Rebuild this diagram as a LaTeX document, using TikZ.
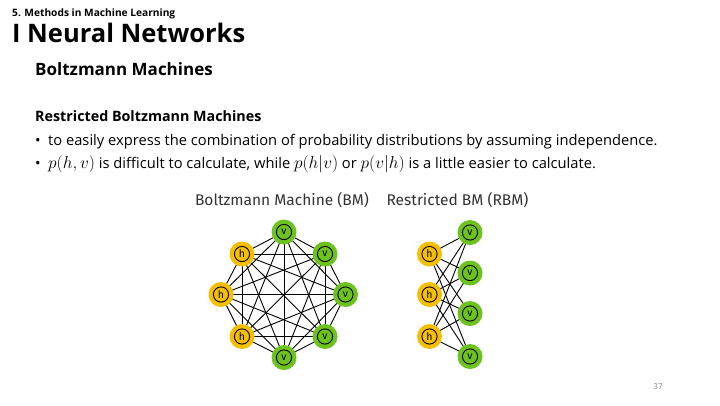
\documentclass[tikz,border=0pt]{standalone}
\usepackage{fontspec}
\setmainfont{Open Sans}
\newfontfamily\diagfont{Fira Sans}
\usetikzlibrary{backgrounds}
\definecolor{hcol}{HTML}{F5BE00}
\definecolor{vcol}{HTML}{6CC21E}
\definecolor{titlegray}{HTML}{333333}
\newcommand{\mymathbig}[1]{{\fontsize{17.5}{17}\selectfont$#1$}}
\tikzset{
  unitnode/.style={circle, minimum size=25pt, inner sep=0pt,
    font=\diagfont\fontsize{10.5}{10.5}\selectfont,
    path picture={\draw[black, line width=0.9pt] (path picture bounding box.center) circle (7.6pt);}},
  hn/.style={unitnode, fill=hcol},
  vn/.style={unitnode, fill=vcol},
  edge/.style={black, line width=0.9pt},
  txt/.style={anchor=base west, inner sep=0pt},
  body/.style={txt, font=\fontsize{14.7}{17}\selectfont},
  dtitle/.style={anchor=base, inner sep=0pt, text=titlegray, font=\diagfont\fontsize{15.5}{18}\selectfont},
}
\begin{document}
\begin{tikzpicture}[x=1pt, y=-1pt]
\useasboundingbox (0,0) rectangle (720,405);
% header texts
\node[txt, font=\bfseries\fontsize{10.2}{12}\selectfont] (sec) at (12,16.5) {5. Methods in Machine Learning};
\node[txt, font=\bfseries\fontsize{25.5}{30}\selectfont] (title) at (12,42) {I Neural Networks};
\node[txt, font=\bfseries\fontsize{17}{20}\selectfont] (sub) at (35,75.5) {Boltzmann Machines};
\node[txt, font=\bfseries\fontsize{14.3}{16}\selectfont] (rbm) at (35,121.5) {Restricted Boltzmann Machines};
\node[body] (b1) at (35,145) {\textbullet};
\node[body] (t1) at (48,145) {to easily express the combination of probability distributions by assuming independence.};
\node[body] (b2) at (35,168) {\textbullet};
\node[body] (t2) at (48,168) {\mymathbig{p(h,v)} is difficult to calculate, while \mymathbig{p(h|v)} or \mymathbig{p(v|h)} is a little easier to calculate.};
% diagram titles
\node[dtitle] (bmt) at (282,205) {Boltzmann Machine (BM)};
\node[dtitle] (rbmt) at (457.5,205) {Restricted BM (RBM)};
% BM nodes
\node[vn] (n1) at (284,232) {v};
\node[vn] (n2) at (325,254) {v};
\node[vn] (n3) at (345.5,294.5) {v};
\node[vn] (n4) at (325,336.5) {v};
\node[vn] (n5) at (284,357.5) {v};
\node[hn] (n6) at (242,336.5) {h};
\node[hn] (n7) at (221,294.5) {h};
\node[hn] (n8) at (242,254) {h};
\begin{scope}[on background layer]
\foreach \i in {1,...,8}{
  \foreach \j in {1,...,8}{
    \ifnum\i<\j \draw[edge] (n\i.center) -- (n\j.center); \fi
  }
}
\end{scope}
% RBM nodes
\node[hn] (rh1) at (429.5,254) {h};
\node[hn] (rh2) at (429.5,294.5) {h};
\node[hn] (rh3) at (429.5,336.5) {h};
\node[vn] (rv1) at (470,232.5) {v};
\node[vn] (rv2) at (470,273) {v};
\node[vn] (rv3) at (470,313.5) {v};
\node[vn] (rv4) at (470,356.5) {v};
\begin{scope}[on background layer]
\foreach \i in {1,2,3}{
  \foreach \j in {1,2,3,4}{
    \draw[edge] (rh\i.center) -- (rv\j.center);
  }
}
\end{scope}
% page number
\node[anchor=base, inner sep=0pt, text=gray, font=\fontsize{8}{10}\selectfont] (pg) at (658,389) {37};
\end{tikzpicture}
\end{document}
